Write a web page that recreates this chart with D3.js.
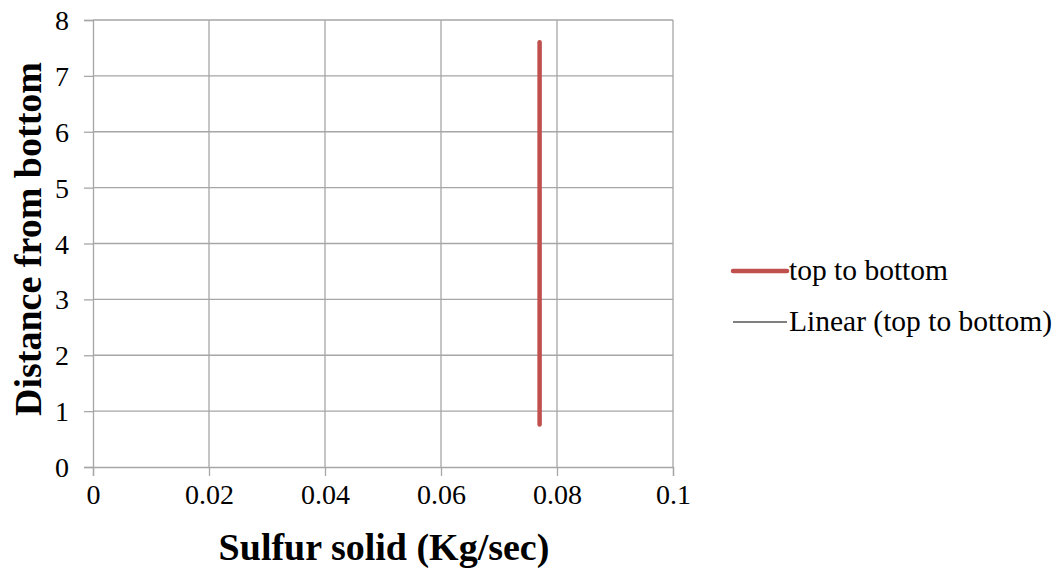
<!DOCTYPE html>
<html>
<head>
<meta charset="utf-8">
<script src="https://cdn.jsdelivr.net/npm/d3@7"></script>
<style>
  html, body { margin: 0; padding: 0; background: #fff; }
  svg text { font-family: "Liberation Serif", "Times New Roman", serif; }
</style>
</head>
<body>
<svg id="chart" width="1063" height="571"></svg>
<script>
// Sulfur solid flow along the column height
const sulfurSolid = [0.077, 0.077, 0.077, 0.077, 0.077];
const distance = [0.76, 2.47, 4.18, 5.89, 7.6];

const xTicks = [0, 0.02, 0.04, 0.06, 0.08, 0.1];
const yTicks = [0, 1, 2, 3, 4, 5, 6, 7, 8];
const xTickLabels = ["0", "0.02", "0.04", "0.06", "0.08", "0.1"];

const seriesName = "top to bottom";
const trendName = "Linear (top to bottom)";
const xTitle = "Sulfur solid (Kg/sec)";
const yTitle = "Distance from bottom";

const svg = d3.select("#chart");
const plot = { left: 93, right: 673, top: 20, bottom: 467 };

const x = d3.scaleLinear().domain([0, 0.1]).range([plot.left, plot.right]);
const y = d3.scaleLinear().domain([0, 8]).range([plot.bottom, plot.top]);

const gridColor = "#a6a6a6";
const serif = "'Liberation Serif', 'Times New Roman', serif";

// gridlines
svg.append("g").selectAll("line").data(xTicks.slice(1)).join("line")
  .attr("x1", d => x(d)).attr("x2", d => x(d))
  .attr("y1", plot.top).attr("y2", plot.bottom)
  .attr("stroke", gridColor).attr("stroke-width", 1.3);
svg.append("g").selectAll("line").data(yTicks.slice(1)).join("line")
  .attr("x1", plot.left).attr("x2", plot.right)
  .attr("y1", d => y(d)).attr("y2", d => y(d))
  .attr("stroke", gridColor).attr("stroke-width", 1.3);

// axes
const xAxis = d3.axisBottom(x).tickValues(xTicks)
  .tickFormat((d, i) => xTickLabels[i]).tickSize(9).tickPadding(8);
const yAxis = d3.axisLeft(y).tickValues(yTicks)
  .tickFormat(d3.format("d")).tickSize(9).tickPadding(15);

const gx = svg.append("g").attr("transform", `translate(0,${plot.bottom})`).call(xAxis);
const gy = svg.append("g").attr("transform", `translate(${plot.left},0)`).call(yAxis);

[gx, gy].forEach(g => {
  g.attr("font-family", null).attr("font-size", null);
  g.select(".domain").attr("stroke", gridColor).attr("stroke-width", 1.3);
  g.selectAll(".tick line").attr("stroke", gridColor).attr("stroke-width", 1.3);
  g.selectAll(".tick text")
    .style("font-family", serif)
    .style("font-size", "28px").attr("fill", "#000");
});
gx.selectAll(".tick text").attr("dy", "0.71em");
gy.selectAll(".tick text").attr("dy", "0.34em");

// series line
const line = d3.line().x((d, i) => x(sulfurSolid[i])).y(d => y(d));
svg.append("path").datum(distance)
  .attr("d", line)
  .attr("fill", "none")
  .attr("stroke", "#c0504d")
  .attr("stroke-width", 4.5)
  .attr("stroke-linecap", "round")
  .attr("stroke-linejoin", "round");

// axis titles
svg.append("text")
  .attr("x", 384).attr("y", 560)
  .attr("text-anchor", "middle")
  .style("font-family", serif).style("font-size", "38px")
  .attr("font-weight", "bold").attr("fill", "#000")
  .text(xTitle);
svg.append("text")
  .attr("transform", `translate(41,239) rotate(-90)`)
  .attr("text-anchor", "middle")
  .style("font-family", serif).style("font-size", "38px")
  .attr("font-weight", "bold").attr("fill", "#000")
  .text(yTitle);

// legend
const legend = svg.append("g");
legend.append("line")
  .attr("x1", 733).attr("x2", 787).attr("y1", 271).attr("y2", 271)
  .attr("stroke", "#c0504d").attr("stroke-width", 4.5).attr("stroke-linecap", "round");
legend.append("text").attr("x", 789).attr("y", 280)
  .style("font-family", serif).style("font-size", "29.5px")
  .attr("fill", "#000").text(seriesName);
legend.append("line")
  .attr("x1", 733).attr("x2", 787).attr("y1", 322).attr("y2", 322)
  .attr("stroke", "#000").attr("stroke-width", 1);
legend.append("text").attr("x", 789).attr("y", 331)
  .style("font-family", serif).style("font-size", "29.5px")
  .attr("fill", "#000").text(trendName);
</script>
</body>
</html>
